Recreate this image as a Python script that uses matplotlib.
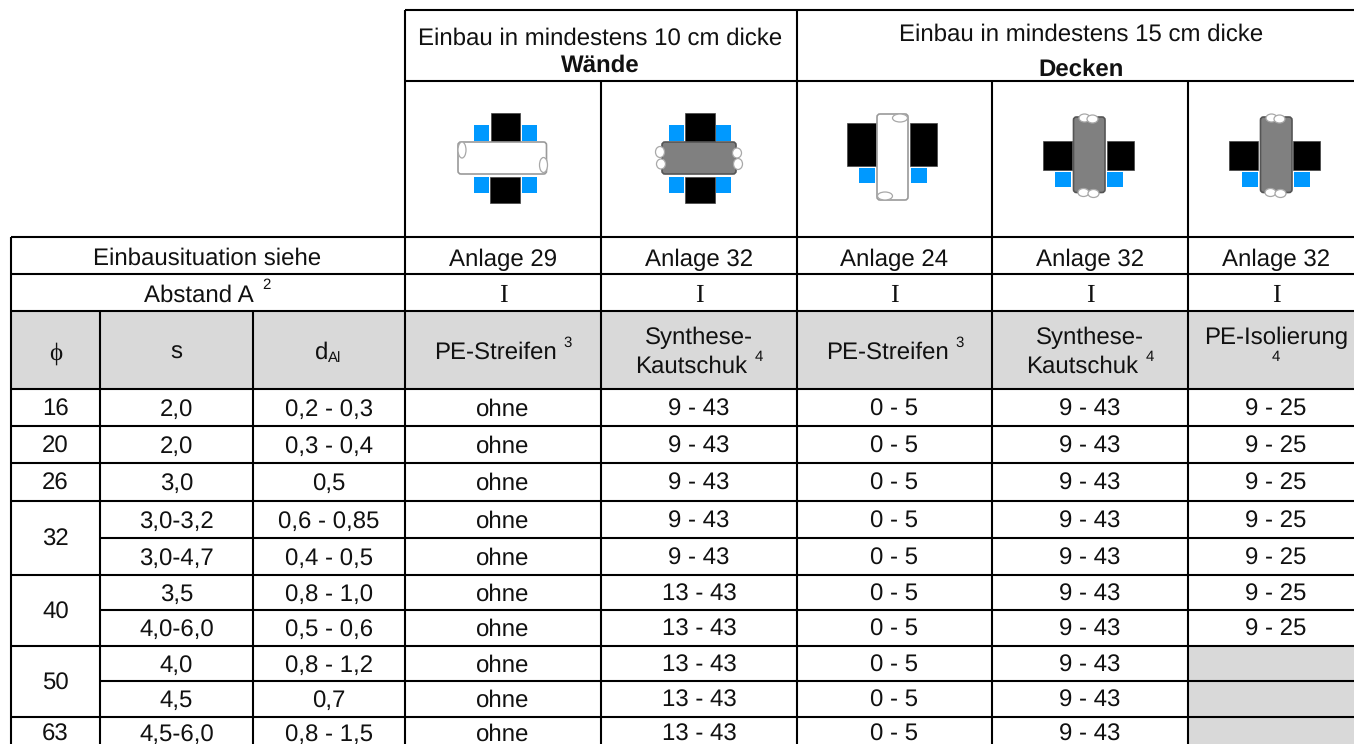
import matplotlib
matplotlib.use("Agg")
import matplotlib.pyplot as plt
from matplotlib.patches import Rectangle, FancyBboxPatch, Ellipse

plt.rcParams["font.family"] = ["Liberation Sans", "DejaVu Sans"]
plt.rcParams["text.hinting"] = "none"
plt.rcParams["text.hinting_factor"] = 1

# table content
phi_groups = [("16", 1), ("20", 1), ("26", 1), ("32", 2), ("40", 2), ("50", 2), ("63", 1)]
s_values = ["2,0", "2,0", "3,0", "3,0-3,2", "3,0-4,7", "3,5", "4,0-6,0", "4,0", "4,5", "4,5-6,0"]
d_values = ["0,2 - 0,3", "0,3 - 0,4", "0,5", "0,6 - 0,85", "0,4 - 0,5", "0,8 - 1,0",
            "0,5 - 0,6", "0,8 - 1,2", "0,7", "0,8 - 1,5"]
wall_pe = ["ohne"] * 10
wall_kautschuk = ["9 - 43"] * 5 + ["13 - 43"] * 5
ceil_pe = ["0 - 5"] * 10
ceil_kautschuk = ["9 - 43"] * 10
ceil_iso = ["9 - 25"] * 7 + [None] * 3
anlagen = ["Anlage 29", "Anlage 32", "Anlage 24", "Anlage 32", "Anlage 32"]

# grid in pixels, the last row ends at the bottom of the picture
col_x = [11, 100, 253, 405, 601, 797, 992, 1188, 1354]
row_y = [389, 426, 463, 501, 538, 575, 610, 646, 681, 717, 744]
centers = [55.5, 176.5, 329, 503, 699, 894.5, 1090, 1276]
LAST_BASE = 741

GREY = "#D9D9D9"
BLUE = "#0099FF"
LW = 1.5
FS = 17.1
SUP = 10.5

fig = plt.figure(figsize=(13.54, 7.44), dpi=100)
ax = fig.add_axes([0, 0, 1, 1])
ax.set_xlim(0, 1354)
ax.set_ylim(744, 0)
ax.axis("off")


def txt(x, y, s, size=FS, **kw):
    ax.text(x, y, s, fontsize=size, ha=kw.pop("ha", "center"), va="baseline", color="#111111", **kw)


def hline(y, x0, x1):
    ax.plot([x0, x1], [y, y], color="black", lw=LW, solid_capstyle="butt", zorder=5)


def vline(x, y0, y1):
    ax.plot([x, x], [y0, y1], color="black", lw=LW, solid_capstyle="butt", zorder=5)


def box(x0, y0, x1, y1, color):
    ax.add_patch(Rectangle((x0, y0), x1 - x0, y1 - y0, facecolor=color,
                           edgecolor="#444444" if color == "black" else "none", lw=0.5, zorder=2))


def pipe(x0, y0, x1, y1, fill, horizontal):
    edge = "#9A9A9A" if fill == "white" else "#555555"
    # torn ends, small white loops
    if horizontal:
        ends = [(x0 + 4, y0 + 8, 8, 16), (x1 - 3, y1 - 9, 8, 15)]
        if fill != "white":
            ends = [(x0 - 2, y0 + 10, 9, 11), (x0 - 1, y1 - 10, 9, 10), (x1 + 1, y0 + 11, 9, 10), (x1 + 2, y1 - 10, 9, 11)]
    else:
        ends = [(x1 - 8, y0 + 4, 15, 8), (x0 + 8, y1 - 4, 15, 8)]
        if fill != "white":
            ends = [(x0 + 11, y0 + 1, 11, 8), (x0 + 19, y0 + 2, 11, 8), (x0 + 10, y1, 11, 8), (x0 + 20, y1 + 1, 11, 8)]
    ax.add_patch(FancyBboxPatch((x0 + 2, y0 + 2), x1 - x0 - 4, y1 - y0 - 4, boxstyle="round,pad=2,rounding_size=3",
                                facecolor=fill, edgecolor=edge, lw=1.2, zorder=3))
    for ex, ey, ew, eh in ends:
        ax.add_patch(Ellipse((ex, ey), ew, eh, facecolor="white", edgecolor="#A8A8A8", lw=0.9, zorder=4))


def wall_icon(dx, fill, px0, px1):
    box(490.7 + dx, 113, 520 + dx, 141.5, "black")
    box(490.3 + dx, 176.5, 520 + dx, 202.5, "black")
    for bx in (474, 521.7):
        box(bx + dx, 125, bx + dx + 15, 140.5, BLUE)
        box(bx + dx, 177, bx + dx + 15, 193, BLUE)
    pipe(px0, 142, px1, 174, fill, True)


def ceil_icon(xl, xr, bl, br, top, bot, fill, px0, px1, py0, py1):
    box(xl, top, xl + 29, bot, "black")
    box(xr, top, xr + 27, bot, "black")
    box(bl, bot + 2, bl + 15.5, bot + 16.5, BLUE)
    box(br, bot + 2, br + 15.5, bot + 16.5, BLUE)
    pipe(px0, py0, px1, py1, fill, False)


def base(first, span=1):
    # text baseline of a cell, the cut off last row has its own
    if first + span == len(row_y) - 1:
        return LAST_BASE
    return (row_y[first] + row_y[first + span]) / 2 + 8


# grey fills
box(11, 311, 1354, 388, GREY)
for y0, y1 in zip(row_y[7:10], row_y[8:11]):
    box(col_x[7], y0, 1354, y1, GREY)

# icons
wall_icon(0, "white", 458, 546.5)
wall_icon(194.5, "#808080", 662, 736)
ceil_icon(846.7, 910, 859, 911, 122.5, 166, "white", 877, 908, 114, 200)
ceil_icon(1042.7, 1106.7, 1055, 1107.3, 140.5, 170, "#808080", 1073.5, 1105, 117, 192.5)
ceil_icon(1229.3, 1293.3, 1242, 1294.3, 140.5, 170, "#808080", 1260.5, 1292, 117, 192.5)

# lines of the head
hline(10, 405, 1354)
hline(81, 405, 1354)
hline(237, 11, 1354)
hline(274, 11, 1354)
hline(311, 11, 1354)
vline(405, 10, 744)
vline(797, 10, 744)
for x in (601, 992, 1188):
    vline(x, 81, 744)
vline(11, 237, 744)
vline(100, 311, 744)
vline(253, 311, 744)

# lines of the body, merged phi cells leave out the first column
row = 0
for label, span in phi_groups:
    hline(row_y[row], 11, 1354)
    for k in range(1, span):
        hline(row_y[row + k], 100, 1354)
    txt(centers[0], base(row, span), label)
    row += span

# head text
txt(600.5, 45, "Einbau in mindestens 10 cm dicke")
txt(600.5, 71.5, "Wände", fontweight="bold")
txt(1081, 41, "Einbau in mindestens 15 cm dicke")
txt(1081, 76, "Decken", fontweight="bold")
txt(207.5, 265, "Einbausituation siehe")
txt(144, 302, "Abstand A", ha="left")
txt(262, 289, "2", size=SUP, ha="left")
for cx, label in zip(centers[3:], anlagen):
    txt(cx, 266, label)
    txt(cx, 302, "I", family="Liberation Serif", size=19)

# column heads
txt(centers[0], 360, "ϕ", family=["Liberation Serif", "DejaVu Sans"], size=18)
txt(centers[1], 359, "s")
txt(315, 359, "d", ha="left")
txt(328, 362, "Al", size=10.5, ha="left")
for left in (434, 826):
    txt(left, 359, "PE-Streifen", ha="left")
    txt(left + 129, 347, "3", size=SUP, ha="left")
for cx in (699, 1090):
    txt(cx, 344, "Synthese-")
    txt(cx - 7.5, 373, "Kautschuk")
    txt(cx + 55.5, 361, "4", size=SUP, ha="left")
txt(1276, 344, "PE-Isolierung")
txt(1276, 361, "4", size=SUP)

# body text
columns = [s_values, d_values, wall_pe, wall_kautschuk, ceil_pe, ceil_kautschuk, ceil_iso]
for cx, values in zip(centers[1:], columns):
    for i, value in enumerate(values):
        if value is not None:
            txt(cx, base(i), value)

fig.savefig("out.png", dpi=100)
